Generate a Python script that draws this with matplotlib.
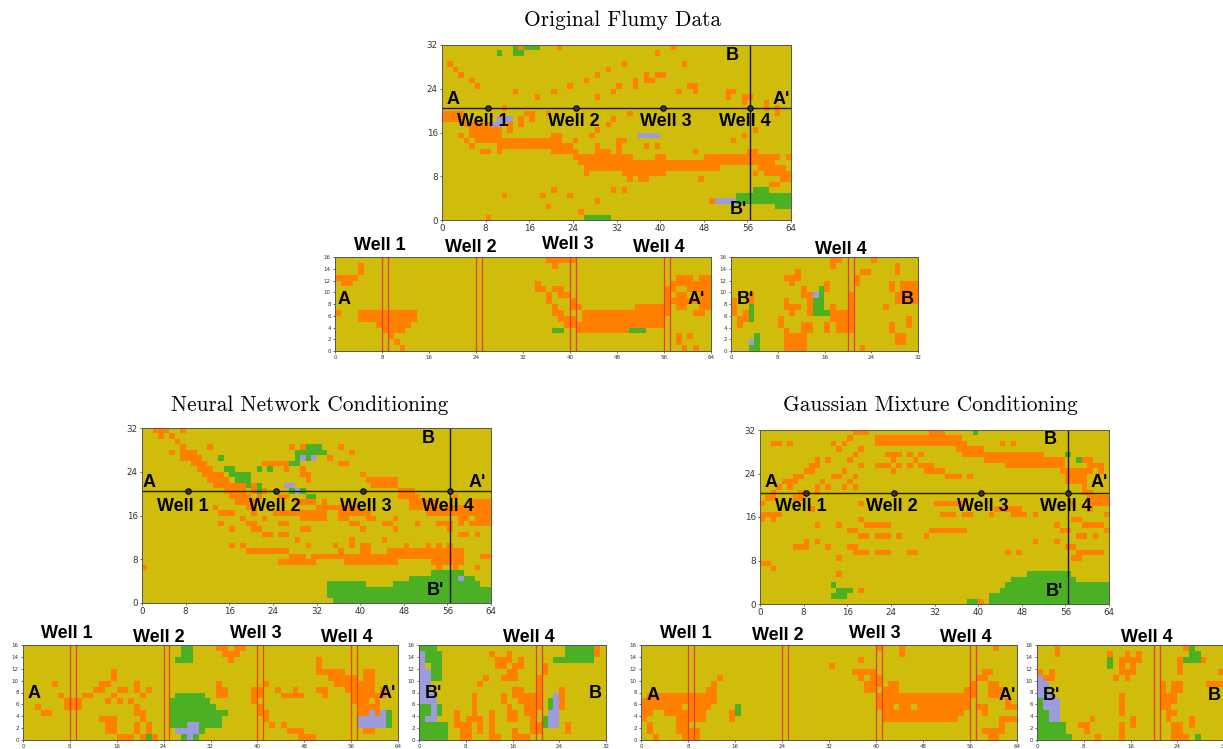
import numpy as np
import matplotlib
matplotlib.use('Agg')
import matplotlib.pyplot as plt
from matplotlib.colors import ListedColormap

W, H = 1223, 749
YELLOW, ORANGE, GREEN, PURPLE = '#CFBC0B', '#FF7F00', '#4CB024', '#9C9CDC'

# facies cells, row number -> columns ("a-b" is a run)
flumy_orange = {31: '14 21 42', 30: '39', 28: '1 33 44', 27: '2 30', 26: '3 28 37 39-40', 25: '5 26 35 37-38',
                24: '6 23 32 35 45-46', 23: '13 20 31 43 46 52-53', 22: '17 28 52 55-56', 21: '55 59', 20: '11 59 61',
                19: '0-3 15-16 19 34 61', 18: '0-3 12 14 16 31', 17: '4-9 12 14 30', 16: '5-10 12 28 57',
                15: '3 5-10 20-21 27 55', 14: '4 6-21 24 32-33 53', 13: '5 10-23 28 32 37 39',
                12: '7-8 10 20-24 28-30 32 46 56-57', 11: '24-34 39-40 48-61 63', 10: '25-60', 9: '26-50 58-62',
                8: '26 33-40 57 59-63', 7: '34 36-37 47 62-63', 6: '60-61', 5: '20 31 33', 4: '11 18 23',
                3: '28 49', 2: '19', 1: '25', 0: '8'}
flumy_green = {31: '13 15-17', 30: '10 13-14', 5: '57-59', 4: '54-63', 3: '54-63', 2: '61-63', 0: '26-30'}
flumy_purple = {18: '10-12', 17: '9-10', 15: '36-39', 3: '50-53'}

flumy_aa_orange = {15: '36-40', 14: '4 37', 13: '4', 12: '0-3 58-60 62-63', 11: '1-2 34 57-63',
                   10: '34-35 37-38 56-57 60-63', 9: '36 38-39 56 58-59 62-63', 8: '36 40 56-63',
                   7: '37 40-41 51-56 58-59 62-63', 6: '0 4-13 37-38 42-56 61-62', 5: '4-13 38-40 42-55',
                   4: '7-12 39-55', 3: '8-11 41-49', 2: '9 58 60', 1: '10 58', 0: '11 59 61'}
flumy_aa_green = {3: '37-38 50-52'}
flumy_aa_purple = {}
flumy_bb_orange = {15: '17-18 24', 14: '17 28', 13: '11 22-23 28', 12: '9-11 21', 11: '10 16 21 27 29-31',
                   10: '12 16 27 29-31', 9: '3 12-13 20 28-31', 8: '0 3 9 13 20 28-31', 7: '0 9-11 13 17 20 26',
                   6: '0 2 10 13 17-20', 5: '1-2 8 17-20 30', 4: '1 8 12-13 16 18-20 27 30',
                   3: '9 12-13 16 18-20 27', 2: '9-12 28-29', 1: '9-12 28-29', 0: '9-12 22'}
flumy_bb_green = {10: '15', 9: '15', 8: '14-15', 7: '3 14-15', 6: '3 14-16', 5: '3', 2: '4', 1: '4', 0: '3-4'}
flumy_bb_purple = {9: '14', 1: '3'}

nn_orange = {31: '2-4 7', 30: '3 5', 29: '6', 28: '7 12 27 29 36', 27: '5 7-9 38', 26: '7-10 34',
             25: '9-11 22-26 36-37', 24: '10-12 26 29', 23: '11-14 29-30 40', 22: '12-15 30 41-46',
             21: '13-18 20 42-46', 20: '15-18 20 22 47-49', 19: '16-19 21 25-26 47-50 57',
             18: '17-20 28-31 33 49-53 60-63', 17: '13 19-20 32-39 49-63', 16: '14-16 20 24-33 36-41 52-63',
             15: '18 22 29-33 36-37 41-42 46 58-59 61-63', 14: '14 19-20 25-26 38-39 44-45 50 54-56 58 60-63',
             13: '16 20-21 29-30 40 46 56', 12: '22-23 25-26 58-59 61', 11: '28 38 44',
             10: '16 18 30 35 38 40-41 48 52 54 56', 9: '19-26 36 40-41 45-58', 8: '27-29 31-58 62-63',
             7: '25-31 37-46 53-58', 6: '0 54 57 61'}
nn_green = {28: '30-32', 27: '28-33', 26: '14 28 30', 25: '27-28', 24: '15-16 21 23', 23: '16-19', 22: '17-19',
            21: '19 21', 20: '21 27 29', 19: '30-31', 5: '53-58', 4: '49-60', 3: '34-40 46-61', 2: '34-63',
            1: '34-63', 0: '35-63'}
nn_purple = {26: '29 31', 21: '26-27', 20: '28', 4: '58'}

nn_aa_orange = {15: '33-34 36-37', 14: '34-36', 13: '35 50', 12: '50', 11: '15 50-54 58-59', 10: '15 52-56 58-59',
                9: '5 13-14 19 33 41 53-59', 8: '12-13 16-17 19 21 33-34 39-40 43 46 50-51 55-59 61',
                7: '6 10-11 15 20 33-34 39-40 44-47 51 56-61', 6: '7-9 14 16 18 39 56-58 60',
                5: '2 7-9 19 40 57-60', 4: '3-4 19-20 40-41 57-58 60', 3: '13-15 20 41', 2: '14-15 19 21 42 44',
                1: '14-15 19 21 45-47 58-59', 0: '16-18 20 22 47-49'}
nn_aa_green = {15: '27-28', 14: '27-28', 13: '26-28', 7: '26-30', 6: '25-31', 5: '25-32', 4: '25-34 62',
               3: '25-33 62', 2: '25-27 30-33 62', 1: '30', 0: '21 27 29'}
nn_aa_purple = {4: '59 61', 3: '57-61', 2: '28-29 57-61', 1: '26-29', 0: '28'}
nn_bb_orange = {15: '30', 14: '12 15 30', 13: '13-15 17', 12: '13-14 16-17 21', 11: '15-16 21', 10: '11 14-16 20',
                9: '10 20', 8: '16-17 20 24', 7: '9 14 16-20 24', 6: '9 14 17-20 24', 5: '9 15 18-20 24',
                4: '6 9 12 15-16 18-19', 3: '6 8-10 12 15-16 19', 2: '6-8 10 12 19-20 25', 1: '7-8 10 12 16 19-20 25',
                0: '7-8 12-13 16-18'}
nn_bb_green = {15: '0-2 25-29', 14: '1-3 25-29', 13: '1-3 23-29', 12: '2-3', 11: '2-3', 10: '2-3', 6: '22',
               5: '0-1 3 22', 4: '0-1 3', 3: '0 21', 2: '0-4 21', 1: '0-4', 0: '0-4'}
nn_bb_purple = {14: '0', 13: '0', 12: '0', 11: '0-1', 10: '0-1', 9: '0-1', 8: '0-1', 7: '0-2 23', 6: '0-2 23',
                5: '2 23', 4: '2 22-23', 3: '1-2 22-23', 2: '22-23'}

gm_orange = {31: '17-19 31-33', 30: '16 21-36', 29: '2-3 5 13 15 21-37 44 46', 28: '14 18 36-40',
             27: '17 23-25 27 29 37-51', 26: '10 12 16 24 28 41-55 59-60',
             25: '9-10 18 21-23 25 27 29-31 45-55 60-62', 24: '8-9 15 24 30-33 55-60 62',
             23: '6-7 13-14 17 34-36 38 56-59', 22: '4-6 11 16 56-59', 21: '3 5 10 12 15 17 59',
             20: '2 7-8 10 59-60', 19: '1-2 6-7 60-63', 18: '0 18 32-37 57 60-63', 17: '9 43-47 60',
             16: '0-3 33-35 37-38 42 46-48 50 63', 15: '0 2 18 57-58', 14: '10 14 19-23 54 59-62',
             13: '16-17 31-37 55-56 63', 12: '18-19 21-23 25 30 58-59 61', 11: '8 10 50 54',
             10: '6-8 12 16-17 56-57', 9: '17-19 21-23 27-28 45 47 58-62', 8: '14 57-58', 7: '0-1', 6: '2',
             5: '14', 2: '18', 0: '40'}
gm_green = {31: '39', 27: '56', 26: '58', 5: '49-56', 4: '46-57', 3: '13 45-63', 2: '14-16 44-63',
            1: '13-15 42-63', 0: '38-39 42-63'}
gm_purple = {}

gm_aa_orange = {15: '40 44 60', 14: '44', 13: '37', 12: '32', 11: '36-39 58-59', 10: '13 37 39-40 57-58',
                9: '12 38-40 42-43 56 59-60', 8: '11-12 38-39 41-43 55-56 59-61', 7: '1-12 40-56 59-61',
                6: '0-12 40-55 62', 5: '0-6 8-11 40-42 44-45 47-55 57-58 62-63', 4: '0-1 4-10 15 41-54 58',
                3: '0 6-10 15 41-53 61-63', 2: '1 6-7 61', 1: '1 6-9 58-61', 0: '2 7-9 59-60'}
gm_aa_green = {5: '16', 4: '16'}
gm_aa_purple = {}
gm_bb_orange = {15: '3 25', 14: '3 12 15 17', 13: '14-17 24 28', 12: '14 16 24', 11: '0 2 14-16 24 31',
                10: '1-2 13 15', 9: '21 23-24 29-31', 8: '21 23-24', 7: '14 21-23', 6: '14 21-23', 5: '14 21-22',
                4: '14 22-23', 3: '9 16 22 26', 2: '7-8 14 16 23-24 26', 1: '8 14 23-24', 0: '10 14 23-25'}
gm_bb_green = {15: '26', 14: '26-27', 13: '12 25-27', 12: '12', 6: '0', 5: '0', 4: '0-1', 3: '0-1', 2: '0-4',
               1: '0-4', 0: '0-5 27'}
gm_bb_purple = {10: '0', 9: '0-1', 8: '0-1', 7: '0-2', 6: '1-3', 5: '1-3', 4: '2-3', 3: '2-3'}

cmap = ListedColormap([YELLOW, ORANGE, GREEN, PURPLE])

fig = plt.figure(figsize=(W / 100, H / 100), dpi=100)


def add_ax(x0, y0, x1, y1):
    # pixel box, measured from top left of the picture
    return fig.add_axes([x0 / W, 1 - y1 / H, (x1 - x0) / W, (y1 - y0) / H])


def fill(grid, cells, code):
    for row, cols in cells.items():
        for part in cols.split():
            a, b = (part.split('-') * 2)[:2]
            grid[row, int(a):int(b) + 1] = code


def draw_grid(ax, nrows, ncols, orange, green, purple, step_y, tick_size):
    grid = np.zeros((nrows, ncols), dtype=int)
    fill(grid, orange, 1)
    fill(grid, green, 2)
    fill(grid, purple, 3)
    ax.imshow(grid, origin='lower', extent=[0, ncols, 0, nrows], aspect='auto', cmap=cmap, vmin=0, vmax=3,
              interpolation='nearest')
    ax.set_xticks(np.arange(0, ncols + 1, 8))
    ax.set_yticks(np.arange(0, nrows + 1, step_y))
    ax.tick_params(labelsize=tick_size, length=1.5, width=0.5, pad=1.5, colors='#333333')
    for s in ax.spines.values():
        s.set_linewidth(0.7)
        s.set_color('#555555')


def label(ax, x, y, s):
    ax.text(x, y, s, ha='center', va='center', fontsize=13, fontweight='bold', family='Liberation Sans',
            color='black')


def px_label(x, y, s):
    fig.text(x / W, 1 - y / H, s, ha='center', va='center', fontsize=13, fontweight='bold',
             family='Liberation Sans')


def main_map(box, title, title_xy, orange, green, purple, a, a2, b, b2, well_y, well_x):
    ax = add_ax(*box)
    draw_grid(ax, 32, 64, orange, green, purple, 8, 6.3)
    ax.axhline(20.5, color='black', lw=1, alpha=0.85)
    ax.axvline(56.5, color='black', lw=1, alpha=0.85)
    ax.plot([8.5, 24.5, 40.5, 56.5], [20.5] * 4, 'o', color='black', ms=4, mfc='#333333', mew=0.7)
    label(ax, *a, 'A')
    label(ax, *a2, "A'")
    label(ax, *b, 'B')
    label(ax, *b2, "B'")
    for i, x in enumerate(well_x):
        label(ax, x, well_y, f'Well {i + 1}')
    fig.text(title_xy[0] / W, 1 - title_xy[1] / H, title, ha='center', va='center', fontsize=15.4, family='cmr10')


def sections(box1, box2, data1, data2, a_x, a2_x, b2_x, b_x, lab_y, well_pos, well4_pos):
    ax = add_ax(*box1)
    draw_grid(ax, 16, 64, *data1, 2, 4)
    for x in [8, 9, 24, 25, 40, 41, 56, 57]:
        ax.axvline(x, color='#E8400A', lw=0.9)
    ax2 = add_ax(*box2)
    draw_grid(ax2, 16, 32, *data2, 2, 4)
    for x in [20, 21]:
        ax2.axvline(x, color='#E8400A', lw=0.9)
    for x, s in [(a_x, 'A'), (a2_x, "A'"), (b2_x, "B'"), (b_x, 'B')]:
        px_label(x, lab_y, s)
    for i, (x, y) in enumerate(well_pos):
        px_label(x, y, f'Well {i + 1}')
    px_label(well4_pos[0], well4_pos[1], 'Well 4')


main_map((442, 45, 791, 220), 'Original Flumy Data', (622, 20), flumy_orange, flumy_green, flumy_purple,
         (2, 22), (62.2, 22), (53.2, 30), (54.4, 2), 18, [7.5, 24.2, 41, 55.5])
sections((335, 257, 711, 351), (731, 257, 918, 351),
         (flumy_aa_orange, flumy_aa_green, flumy_aa_purple), (flumy_bb_orange, flumy_bb_green, flumy_bb_purple),
         344, 696, 745, 907, 300, [(380, 246), (471, 248), (568, 245), (659, 248)], (841, 249))

main_map((142, 428, 491, 603), 'Neural Network Conditioning', (310, 405), nn_orange, nn_green, nn_purple,
         (1.3, 22), (61.5, 22), (52.5, 30), (53.8, 2.3), 17.7, [7.4, 24.3, 41, 56])
sections((23, 645, 398, 740), (419, 645, 606, 740),
         (nn_aa_orange, nn_aa_green, nn_aa_purple), (nn_bb_orange, nn_bb_green, nn_bb_purple),
         34, 387, 433, 595, 694, [(67, 634), (159, 637), (256, 634), (347, 637)], (529, 637))

main_map((760, 430, 1109, 604), 'Gaussian Mixture Conditioning', (930, 405), gm_orange, gm_green, gm_purple,
         (2, 22.4), (62.2, 22.4), (53.2, 30.2), (54, 2.3), 17.9, [7.4, 24.2, 40.9, 56])
sections((641, 645, 1017, 740), (1037, 645, 1224, 740),
         (gm_aa_orange, gm_aa_green, gm_aa_purple), (gm_bb_orange, gm_bb_green, gm_bb_purple),
         653, 1007, 1051, 1214, 695, [(686, 634), (778, 636), (875, 634), (966, 637)], (1147, 637))

fig.savefig('out.png', dpi=100)
